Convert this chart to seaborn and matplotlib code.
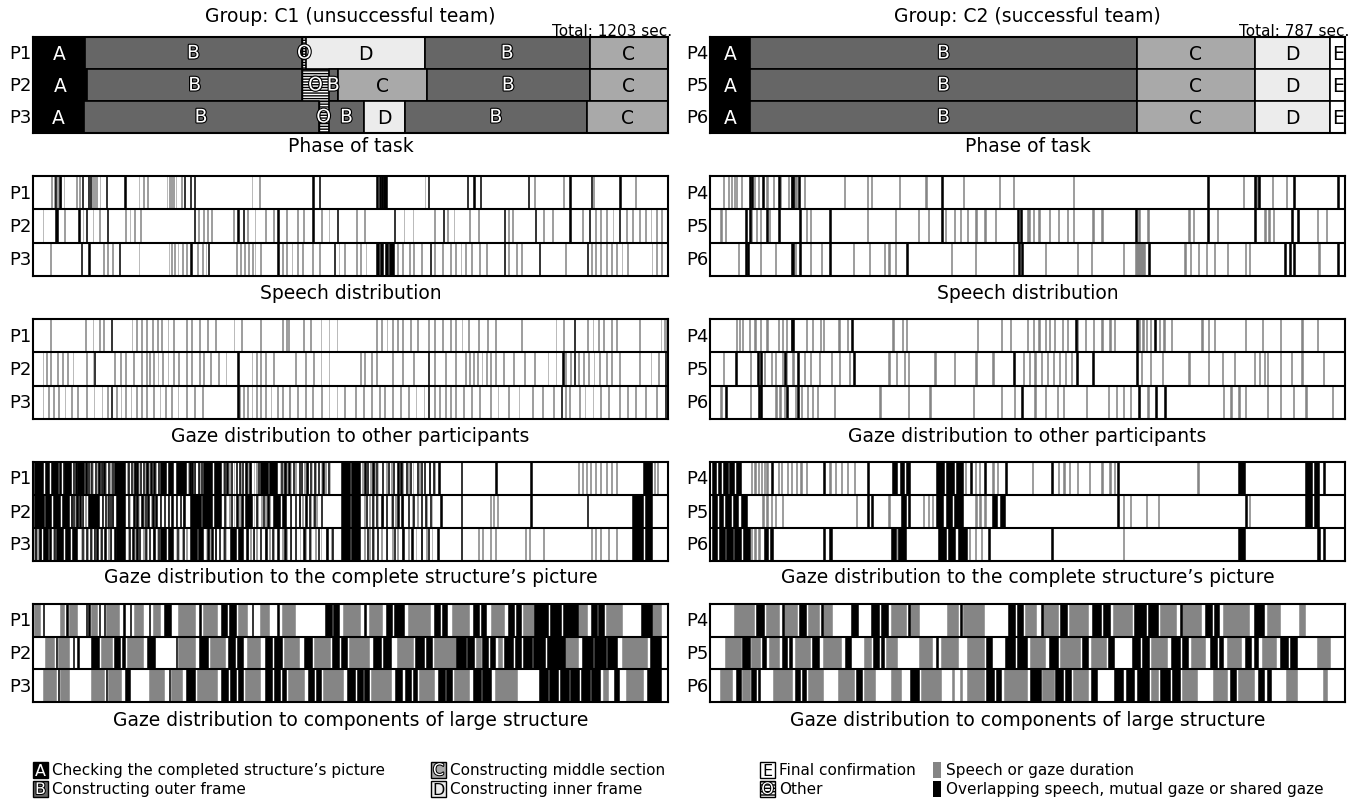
import matplotlib
matplotlib.use("Agg")
import matplotlib.pyplot as plt
import matplotlib.patheffects as pe
from matplotlib.patches import Rectangle
import seaborn as sns

sns.set_style("white")
plt.rcParams['font.family'] = ['DejaVu Sans']
plt.rcParams['text.color'] = 'black'
plt.rcParams['hatch.linewidth'] = 1.0

## data (seconds)

total_c1 = 1203
total_c2 = 787
participants_c1 = ["P1", "P2", "P3"]
participants_c2 = ["P4", "P5", "P6"]

# phase of task segments: (phase, start, end)
phase_P1 = [("A", 0, 98), ("B", 98, 510), ("O", 510, 518), ("D", 518, 742), ("B", 742, 1055), ("C", 1055, 1203)]
phase_P2 = [("A", 0, 103), ("B", 103, 510), ("O", 510, 560), ("B", 560, 578), ("C", 578, 746), ("B", 746, 1055), ("C", 1055, 1203)]
phase_P3 = [("A", 0, 96), ("B", 96, 541), ("O", 541, 560), ("B", 560, 628), ("D", 628, 705), ("B", 705, 1049), ("C", 1049, 1203)]
phase_P4 = [("A", 0, 50), ("B", 50, 529), ("C", 529, 675), ("D", 675, 769), ("E", 769, 787)]
phase_P5 = [("A", 0, 50), ("B", 50, 529), ("C", 529, 675), ("D", 675, 769), ("E", 769, 787)]
phase_P6 = [("A", 0, 50), ("B", 50, 529), ("C", 529, 675), ("D", 675, 769), ("E", 769, 787)]

# events: a number is a short event, a tuple is (start, end)
short_gray = 1.5
short_black = 2.5

# C1 speech
c1_speech_gray_P1 = [35, 40, 45, 52, 58, 82, 88, 112, 116, 120, 126, 200, 208, 216, 253, 258, 262, 266, 270, 280, 414, 429, 742, 950, 1004, 1061, 1141]
c1_speech_black_P1 = [41, 50, 92, 104, 108, 138, 173, 286, 297, 305, 529, 542, (649, 653), 656, 660, (664, 670), 748, 822, 834, 847, 938, 1016, 1057, 1111]
c1_speech_gray_P2 = [18, 59, 94, 113, 125, 175, 183, 191, 203, 313, 322, 330, 338, 379, 405, 420, 440, 455, 480, 500, 512, 546, 560, 612, 628, 702, 719, 760, 785, 797, 826, 843, 900, 908, 966, 983, 1040, 1065, 1075, 1085, 1098, 1123, 1135, 1148, 1160, 1170, 1180, 1190]
c1_speech_black_P2 = [(42, 48), 86, 100, 140, 305, 387, 397, 463, 529, 575, 684, 777, 892, 951, 1016, 1053, 1110]
c1_speech_gray_P3 = [33, 133, 140, 150, 200, 257, 262, 268, 274, 282, 290, 311, 320, 327, 385, 392, 400, 408, 415, 420, 430, 472, 480, 490, 500, 510, 529, 542, 579, 590, 612, 620, 630, 690, 700, 712, 720, 735, 760, 775, 790, 800, 810, 818, 830, 845, 859, 900, 915, 925, 1008, 1057, 1065, 1075, 1085, 1095, 1105, 1115, 1125, 1172, 1180, 1190]
c1_speech_black_P3 = [90, 105, 162, 298, 331, 463, 570, (649, 655), (657, 664), (666, 672), (675, 684), 752, 892, 958, 1049]

# C1 gaze to other participants
c1_other_gray_P1 = [(32, 35), 99, 113, 125, 133, 187, 195, 205, 215, 225, 235, 242, 255, 265, 290, 300, 315, 330, 345, 380, 395, 430, 472, 480, 484, 512, 525, 545, 560, 575, 650, 660, 670, 680, 690, 700, 715, 727, 748, 760, 775, 790, 800, 812, 825, 843, 860, 875, 925, 990, 1005, 1049, 1060, 1070, 1080, 1095, 1105, 1148, 1189, 1195, 1200]
c1_other_black_P1 = [148, 1024]
c1_other_gray_P2 = [18, 25, 33, 45, 55, 65, 75, 100, 113, 154, 165, 175, 190, 205, 215, 220, 228, 236, 245, 255, 265, 275, 290, 300, 315, 323, 335, 350, 365, 414, 422, 430, 440, 455, 496, 515, 530, 545, 560, 620, 628, 640, 650, 680, 700, 720, 760, 780, 800, 818, 826, 834, 842, 850, 858, 866, 875, 890, 910, 930, 950, 975, 990, 1008, 1018, 1032, 1042, 1052, 1062, 1072, 1085, 1095, 1110, 1148, 1170, 1185]
c1_other_black_P2 = [115, 387, 748, 1003, 1024, 1197]
c1_other_gray_P3 = [18, 28, 38, 48, 60, 72, 84, 100, 115, 130, 140, 158, 166, 175, 185, 195, 205, 215, 228, 240, 250, 262, 274, 290, 305, 320, 390, 398, 406, 414, 422, 430, 440, 450, 462, 472, 485, 500, 515, 529, 546, 560, 575, 590, 610, 625, 640, 655, 665, 680, 695, 710, 725, 740, 760, 770, 780, 790, 800, 815, 830, 845, 866, 880, 900, 920, 945, 965, 985, 1008, 1016, 1035, 1045, 1060, 1075, 1090, 1110, 1125, 1140, 1160, 1180]
c1_other_black_P3 = [148, 387, 748, 1000, 1197]

# C1 gaze to the complete structure's picture
c1_pic_gray_P1 = [100, 108, 113, 121, 131, 136, 146, 179, 190, 200, 212, 218, 232, 294, 306, 315, 360, 372, 380, 393, 406, 412, 418, 422, 467, 474, 480, 488, 496, 513, 520, 528, 535, 545, 553, 562, 624, 638, 646, 653, 669, 678, 700, 710, 719, 731, 750, 760, 1032, 1040, 1048, 1056, 1065, 1075, 1085, 1095, 1105, 1176, 1182]
c1_pic_black_P1 = [(2, 18), (22, 30), (35, 47), 50, 56, (59, 72), 76, 80, (84, 96), 99, 104, 110, 117, 124, 128, 133, 142, 150, (154, 175), 180, 186, 192, 196, 202, 208, 215, 222, 228, 236, (241, 252), 245, (255, 266), (270, 290), 296, 300, 305, 312, 318, (323, 340), (343, 356), 362, 366, 375, 384, 390, 396, 402, 410, 426, (430, 445), (448, 463), 470, 476, 484, 492, 504, 508, 518, 524, 532, 540, 548, 558, (583, 600), (603, 620), 628, 632, 643, 650, 661, 672, 682, 690, 696, 706, 714, 727, 735, 740, 750, 757, 768, 810, 876, 942, (1156, 1172)]
c1_pic_gray_P2 = [72, 80, 84, 94, 99, 130, 140, 150, 183, 195, 200, 208, 224, 240, 255, 270, 285, 364, 372, 380, 390, 397, 418, 425, 432, 440, 447, 488, 504, 510, 525, 530, 537, 628, 636, 645, 653, 661, 678, 686, 700, 718, 727, 745, 755, 866, 872, 879]
c1_pic_black_P2 = [(2, 20), (23, 35), (38, 52), (55, 68), 72, 76, 82, 88, 92, (105, 125), 130, 136, 142, 146, 150, (158, 175), 180, 190, 196, 205, 212, (216, 219), 226, 232, 240, 248, 255, 262, 270, 278, 285, (298, 318), (321, 340), (343, 356), 362, 375, 385, 395, (402, 414), 422, 436, 444, (455, 468), (471, 480), 486, 496, 504, 516, 522, 532, (546, 548), (583, 600), (603, 620), 630, 642, 650, 660, 669, 680, 690, 698, 710, 720, 735, 742, 752, 772, 810, 942, 1049, (1135, 1156), (1160, 1172)]
c1_pic_gray_P3 = [2, 6, 10, 14, 38, 90, 96, 102, 110, 115, 127, 142, 147, 180, 194, 208, 214, 228, 234, 270, 276, 282, 290, 327, 333, 345, 360, 365, 405, 412, 418, 422, 440, 447, 455, 472, 480, 488, 505, 515, 525, 535, 545, 555, 565, 628, 636, 645, 660, 670, 680, 690, 700, 710, 725, 735, 745, 755, 843, 851, 866, 876, 932, 940, 966, 1057, 1065, 1075, 1090, 1105]
c1_pic_black_P3 = [4, 12, (18, 28), (31, 35), 40, (43, 56), (60, 70), (73, 84), 92, 100, 108, 115, 120, 128, 135, 145, 154, (157, 175), 182, 188, 196, 200, 212, 220, 228, 236, (241, 252), (255, 265), 272, 284, (298, 310), (313, 323), 330, 338, 344, 352, 362, (373, 385), (388, 397), 404, 416, 430, 440, 452, 463, 476, 486, 496, 512, 522, 540, 556, 566, (583, 600), (603, 620), 632, 642, 652, 668, 684, 700, 717, 735, 748, 766, 810, (1135, 1156), (1160, 1172)]

# C1 gaze to components of large structure
c1_comp_gray_P1 = [(2, 14), (51, 59), (68, 84), (109, 121), (138, 162), (191, 208), (228, 241), (274, 307), (323, 348), (389, 406), (430, 447), (472, 496), (587, 620), (637, 661), (711, 752), (793, 826), (867, 892), (929, 950), (1032, 1049), (1086, 1115), (1172, 1189)]
c1_comp_black_P1 = [18, 63, 100, 105, 125, 134, 171, 183, 220, (249, 261), 315, (356, 368), (372, 385), 414, 463, (554, 566), (569, 579), 628, (669, 680), (684, 702), (760, 772), (775, 785), (834, 845), (849, 859), (900, 912), (915, 925), (950, 975), (979, 1000), (1004, 1032), (1057, 1068), (1071, 1082), (1152, 1172)]
c1_comp_gray_P2 = [(22, 39), (47, 68), (129, 150), (179, 208), (274, 307), (336, 364), (406, 430), (476, 504), (533, 562), (599, 637), (690, 720), (760, 801), (840, 848), (880, 888), (1007, 1032), (1115, 1164)]
c1_comp_black_P2 = [43, 76, 84, (109, 125), (154, 165), (168, 175), (216, 232), 270, (315, 331), (369, 382), (386, 397), (439, 452), (456, 472), (513, 529), (566, 580), (583, 595), (645, 660), (664, 678), (724, 740), (744, 756), (801, 820), (823, 836), (851, 862), (865, 876), (892, 910), (913, 925), (928, 945), (948, 970), (973, 1007), (1040, 1060), (1063, 1085), (1088, 1106), (1168, 1189)]
c1_comp_gray_P3 = [(18, 43), (51, 68), (109, 134), (142, 167), (220, 249), (261, 282), (311, 348), (401, 430), (484, 513), (550, 587), (641, 678), (731, 760), (797, 826), (876, 917), (1080, 1090), (1123, 1156)]
c1_comp_black_P3 = [47, 138, (175, 183), 257, (290, 307), (356, 370), (374, 385), (388, 397), (439, 452), (456, 468), (471, 480), (521, 533), (536, 546), (595, 610), (613, 625), (628, 637), (686, 700), (704, 716), (719, 727), (768, 780), (783, 793), (834, 848), (851, 867), (958, 975), (978, 995), (998, 1015), (1018, 1035), (1038, 1055), (1058, 1074), (1100, 1110), (1164, 1189)]

# C2 speech
c2_speech_gray_P4 = [16, 22, 26, 30, 32, 38, 54, 59, 70, 78, 86, 97, (100, 108), 116, 166, 194, 199, 234, 267, 313, 358, 375, 450, 660, (676, 680), 696, 714]
c2_speech_black_P4 = [48, 51, 64, 84, 101, 109, 286, 616, 674, 679, 722, 777]
c2_speech_gray_P5 = [13, 18, 51, 57, 62, 73, 119, 124, 194, 229, 258, 270, 291, 302, 310, 318, 329, 340, 353, (393, 396), 400, 407, 420, 431, 442, 450, 474, 485, 531, 542, 593, 598, 628, 687, 692, 698, 752, 763]
c2_speech_black_P5 = [43, 48, 69, 84, 110, 147, 286, 380, 384, 527, 616, 674, 720, 728]
c2_speech_gray_P6 = [35, 62, 80, 105, 124, 137, 177, 197, 216, 221, 229, 299, 328, 375, 415, 455, 472, 512, (527, 539), 588, 595, 605, 615, 625, 641, 663, 668, 754]
c2_speech_black_P6 = [43, 46, 101, 110, 147, 243, 382, 385, 543, 711, 717, 722, 777]

# C2 gaze to other participants
c2_other_gray_P4 = [32, 36, 40, 48, 55, 62, 70, 84, 89, 94, 100, 119, 126, 136, 140, 159, 170, 226, 238, 243, 331, 361, 372, 393, 400, 407, 415, 420, 426, 436, 442, 455, 465, 475, 485, 495, 501, 531, 536, 540, 545, 556, 562, 571, 609, 617, 625, 663, 684, 706, 733, 752]
c2_other_black_P4 = [101, 175, 452, 528, 550]
c2_other_gray_P5 = [16, 49, 67, 75, 80, 89, 94, 102, 116, 124, 135, 150, 160, 172, 221, 230, 240, 245, 278, 302, 329, 350, 388, 395, 402, 410, 418, 425, 432, 440, 447, 534, 545, 560, 593, 617, 634, 649, 674, 680, 686, 690, 706, 720, 733, 760]
c2_other_black_P5 = [31, 58, 62, 92, 108, 177, 375, 453, 474, 528]
c2_other_gray_P6 = [13, 49, 81, 86, 92, 105, 113, 120, 126, 132, 154, 210, 245, 272, 326, 361, 377, 402, 415, 430, 437, 466, 493, 503, 512, 520, 542, 636, 645, 655, 663, 690, 706, 722, 738, 771]
c2_other_black_P6 = [19, 59, 62, 94, 108, 385, 531, 552, 563]

# C2 gaze to the complete structure's picture
c2_pic_gray_P4 = [51, 55, 59, 63, 67, 70, 84, 88, 95, 100, 106, 112, 119, 148, 155, 162, 170, 178, 316, 328, 333, 350, 356, 399, 431, 438, 445, 455, 470, 485, 495, 501, 604]
c2_pic_black_P4 = [(3, 8), (10, 14), (16, 22), (24, 30), (32, 38), 75, 140, 194, (225, 232), (235, 241), (243, 248), (280, 290), (293, 302), (305, 313), 322, 340, 366, 423, 504, (655, 663), (738, 746), (749, 755), 760]
c2_pic_gray_P5 = [65, 70, 75, 80, 89, 181, 221, 264, 270, 275, 329, 334, 340, 512, 520, 540, 555, 668]
c2_pic_black_P5 = [(3, 9), (11, 16), (18, 26), (28, 35), (38, 46), 194, 199, (237, 243), (245, 248), (280, 289), (292, 300), (303, 313), (350, 356), (359, 366), 504, 663, (738, 746), (749, 755)]
c2_pic_gray_P6 = [51, 55, 60, 232, 321, 328, 336, 512]
c2_pic_black_P6 = [(3, 9), (11, 18), (20, 28), (30, 38), (41, 49), (67, 72), (74, 78), (140, 143), (148, 151), (224, 230), (233, 243), (283, 292), (295, 304), (307, 318), 345, 423, (655, 663), (752, 756), 760]

# C2 gaze to components of large structure
c2_comp_gray_P4 = [(30, 54), (70, 86), (92, 108), (121, 135), (140, 151), (224, 243), (248, 259), (294, 307), (313, 340), (391, 404), (412, 431), (445, 469), (499, 523), (558, 577), (585, 609), (636, 668), (690, 706), (730, 738)]
c2_comp_black_P4 = [(57, 67), 89, (110, 119), 137, (175, 183), (199, 210), (212, 221), 245, 310, (369, 378), (381, 388), 410, (434, 442), (474, 484), (487, 496), (526, 540), (543, 555), 582, (614, 622), (625, 631), (674, 687)]
c2_comp_gray_P5 = [(19, 38), (51, 62), (73, 86), (105, 124), (140, 162), (191, 199), (218, 232), (259, 275), (286, 307), (318, 340), (396, 415), (434, 458), (472, 491), (547, 566), (596, 614), (641, 658), (684, 701), (752, 768)]
c2_comp_black_P5 = [(40, 49), (65, 70), (89, 96), (98, 102), (127, 135), (167, 175), (202, 210), (212, 216), 280, (342, 350), (366, 378), (381, 393), (420, 431), (461, 469), (493, 501), (523, 533), (536, 544), (571, 582), (585, 593), (620, 628), (631, 636), (663, 671), (674, 679), (706, 716), (719, 728)]
c2_comp_gray_P6 = [(13, 27), (40, 49), (78, 102), (121, 140), (159, 178), (191, 205), (224, 237), (261, 286), (300, 302), (310, 312), (318, 340), (364, 393), (412, 426), (450, 469), (547, 555), (585, 604), (623, 641), (655, 674), (714, 728), (760, 765)]
c2_comp_black_P6 = [(32, 38), (51, 57), (59, 62), (105, 112), (114, 119), (181, 189), (248, 259), (342, 352), (355, 361), (396, 410), (428, 437), (440, 447), (472, 480), (501, 512), (515, 526), (529, 544), (558, 570), (573, 582), (644, 652), (679, 687), (690, 695)]

panel_titles = ["Speech distribution", "Gaze distribution to other participants",
                "Gaze distribution to the complete structure\u2019s picture",
                "Gaze distribution to components of large structure"]

## styles / layout (pixels)

W, H = 1361, 804
phase_colors = {"A": "#000000", "B": "#666666", "C": "#a9a9a9", "D": "#ececec", "E": "#ffffff", "O": "#ffffff"}
GRAY = "#858585"
cols = [(33, 668), (710, 1345)]
bands = [(38, 134), (177, 277), (320, 420), (463, 562), (605, 703)]
caption_y = [147, 294, 437, 578, 721]

fig = plt.figure(figsize=(W / 100, H / 100), dpi=100)


def rect(x0, x1, top, bottom):
    return [x0 / W, 1 - bottom / H, (x1 - x0) / W, (bottom - top) / H]


def to_spans(events, short):
    out = []
    for e in events:
        if isinstance(e, tuple):
            out.append((e[0], e[1] - e[0]))
        else:
            out.append((e, short))
    return out


def setup(ax, total, names):
    ax.set_xlim(0, total)
    ax.set_ylim(0, 3)
    ax.set_xticks([])
    ax.set_yticks([])
    for s in ax.spines.values():
        s.set_visible(True)
        s.set_color("black")
        s.set_linewidth(1.5)
    for i, n in enumerate(names):
        ax.text(-0.002, 2.5 - i, n, transform=ax.get_yaxis_transform(),
                ha="right", va="center", fontsize=13)


def draw_phase(ax, rows, total, names):
    setup(ax, total, names)
    outline = [pe.withStroke(linewidth=1.6, foreground="black")]
    for i, segs in enumerate(rows):
        y = 2 - i
        for ph, a, b in segs:
            if ph == "O":
                ax.broken_barh([(a, b - a)], (y, 1), facecolors="white", edgecolor="black",
                               linewidth=1.0, hatch="------")
            else:
                ax.broken_barh([(a, b - a)], (y, 1), facecolors=phase_colors[ph],
                               edgecolor="black", linewidth=1.2)
            mid = (a + b) / 2
            if ph == "A":
                ax.text(mid, y + 0.5, ph, color="white", ha="center", va="center", fontsize=13.5)
            elif ph in ("B", "O"):
                ax.text(mid, y + 0.5, ph, color="white", ha="center", va="center", fontsize=13.5,
                        path_effects=outline)
            else:
                ax.text(mid, y + 0.5, ph, color="black", ha="center", va="center", fontsize=13.5)


def draw_events(ax, rows, total, names):
    setup(ax, total, names)
    for i, (gray, black) in enumerate(rows):
        y = 2 - i
        ax.broken_barh(to_spans(gray, short_gray), (y, 1), facecolors=GRAY,
                       edgecolor=GRAY, linewidth=0.4)
        ax.broken_barh(to_spans(black, short_black), (y, 1), facecolors="black",
                       edgecolor="black", linewidth=0.4)
    ax.axhline(1, color="black", lw=1.5)
    ax.axhline(2, color="black", lw=1.5)


groups = [
    dict(total=total_c1, names=participants_c1, title="Group: C1 (unsuccessful team)",
         phase=[phase_P1, phase_P2, phase_P3],
         panels=[
             [(c1_speech_gray_P1, c1_speech_black_P1), (c1_speech_gray_P2, c1_speech_black_P2), (c1_speech_gray_P3, c1_speech_black_P3)],
             [(c1_other_gray_P1, c1_other_black_P1), (c1_other_gray_P2, c1_other_black_P2), (c1_other_gray_P3, c1_other_black_P3)],
             [(c1_pic_gray_P1, c1_pic_black_P1), (c1_pic_gray_P2, c1_pic_black_P2), (c1_pic_gray_P3, c1_pic_black_P3)],
             [(c1_comp_gray_P1, c1_comp_black_P1), (c1_comp_gray_P2, c1_comp_black_P2), (c1_comp_gray_P3, c1_comp_black_P3)],
         ]),
    dict(total=total_c2, names=participants_c2, title="Group: C2 (successful team)",
         phase=[phase_P4, phase_P5, phase_P6],
         panels=[
             [(c2_speech_gray_P4, c2_speech_black_P4), (c2_speech_gray_P5, c2_speech_black_P5), (c2_speech_gray_P6, c2_speech_black_P6)],
             [(c2_other_gray_P4, c2_other_black_P4), (c2_other_gray_P5, c2_other_black_P5), (c2_other_gray_P6, c2_other_black_P6)],
             [(c2_pic_gray_P4, c2_pic_black_P4), (c2_pic_gray_P5, c2_pic_black_P5), (c2_pic_gray_P6, c2_pic_black_P6)],
             [(c2_comp_gray_P4, c2_comp_black_P4), (c2_comp_gray_P5, c2_comp_black_P5), (c2_comp_gray_P6, c2_comp_black_P6)],
         ]),
]

# overlay axes in pixel coordinates for captions and legend
ov = fig.add_axes([0, 0, 1, 1], zorder=5)
ov.set_xlim(0, W)
ov.set_ylim(H, 0)
ov.axis("off")

for (x0, x1), g in zip(cols, groups):
    top, bottom = bands[0]
    ax = fig.add_axes(rect(x0, x1, top, bottom))
    draw_phase(ax, g["phase"], g["total"], g["names"])
    for k, rows in enumerate(g["panels"]):
        top, bottom = bands[k + 1]
        ax = fig.add_axes(rect(x0, x1, top, bottom))
        draw_events(ax, rows, g["total"], g["names"])
    cx = (x0 + x1) / 2
    ov.text(cx, 16, g["title"], ha="center", va="center", fontsize=13.5)
    ov.text(x1 + 4, 31, "Total: %d sec." % g["total"], ha="right", va="center", fontsize=11)
    ov.text(cx, caption_y[0], "Phase of task", ha="center", va="center", fontsize=13.5)
    for k, t in enumerate(panel_titles):
        ov.text(cx, caption_y[k + 1], t, ha="center", va="center", fontsize=13.5)

## legend

leg_y = [771, 790]
legend_letters = [
    (33, leg_y[0], "A", "Checking the completed structure\u2019s picture"),
    (33, leg_y[1], "B", "Constructing outer frame"),
    (431, leg_y[0], "C", "Constructing middle section"),
    (431, leg_y[1], "D", "Constructing inner frame"),
    (760, leg_y[0], "E", "Final confirmation"),
    (760, leg_y[1], "O", "Other"),
]
outline = [pe.withStroke(linewidth=1.5, foreground="black")]
for x, y, ph, label in legend_letters:
    ov.add_patch(Rectangle((x, y - 8), 15, 16, facecolor=phase_colors[ph], edgecolor="black",
                           linewidth=1.0, hatch="-----" if ph == "O" else None))
    if ph == "A":
        ov.text(x + 7.5, y + 0.5, ph, color="white", ha="center", va="center", fontsize=11.5)
    elif ph in ("B", "C", "O"):
        ov.text(x + 7.5, y + 0.5, ph, color="white", ha="center", va="center", fontsize=11.5,
                path_effects=outline)
    else:
        ov.text(x + 7.5, y + 0.5, ph, color="black", ha="center", va="center", fontsize=11.5)
    ov.text(x + 19, y, label, ha="left", va="center", fontsize=11)

ov.add_patch(Rectangle((933, leg_y[0] - 8), 8, 16, facecolor=GRAY, edgecolor=GRAY, linewidth=0))
ov.text(946, leg_y[0], "Speech or gaze duration", ha="left", va="center", fontsize=11)
ov.add_patch(Rectangle((933, leg_y[1] - 8), 8, 16, facecolor="black", edgecolor="black", linewidth=0))
ov.text(946, leg_y[1], "Overlapping speech, mutual gaze or shared gaze", ha="left", va="center", fontsize=11)

fig.savefig("out.png", dpi=100)
